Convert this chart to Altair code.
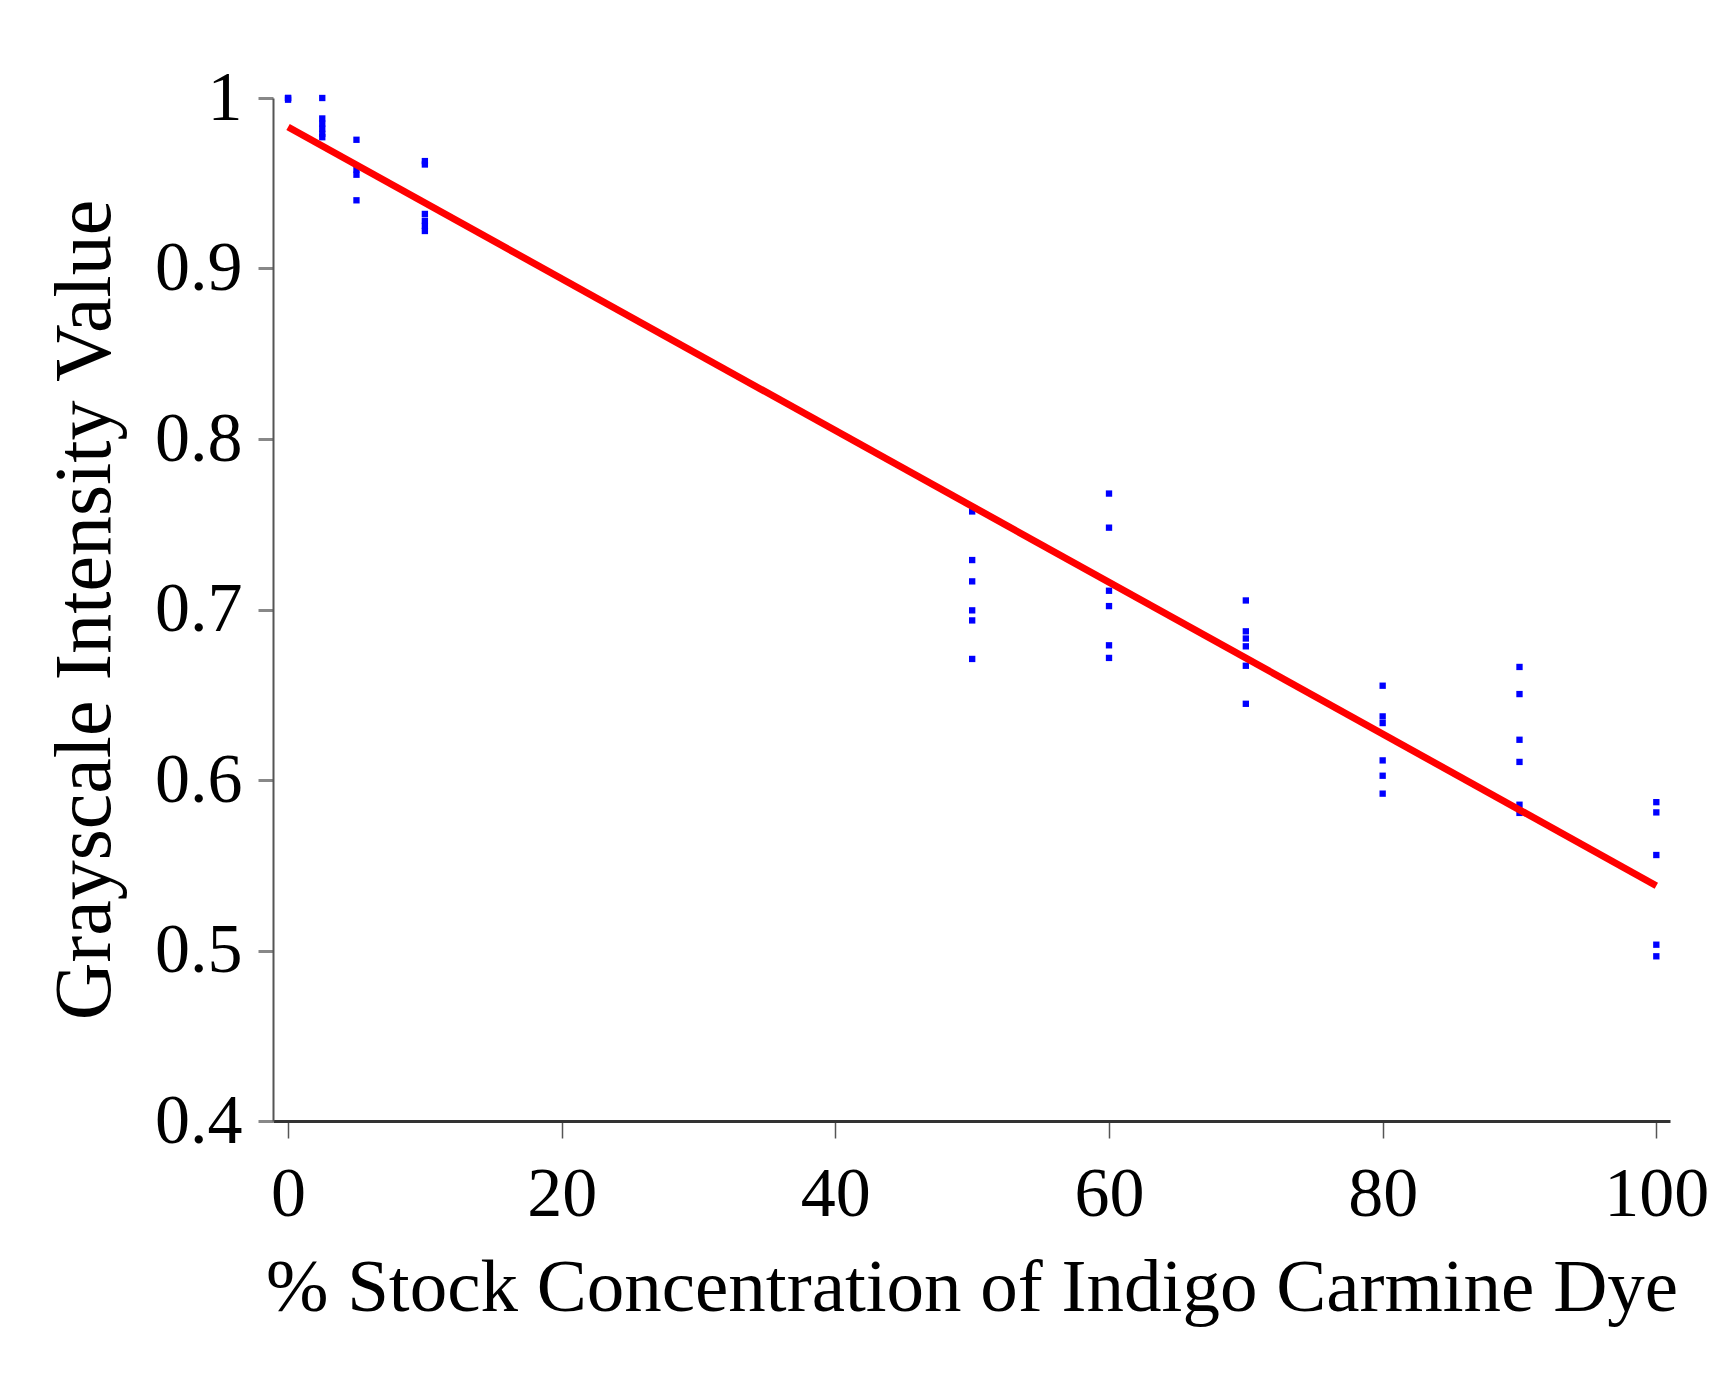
import altair as alt
import pandas as pd

# concentration levels (% stock) and grayscale values
conc_levels = [0, 2.5, 5, 10, 50, 60, 70, 80, 90, 100]
gray_values = [
    [1.0, 1.0, 0.999],
    [1.0, 0.988, 0.985, 0.982, 0.979, 0.977],
    [0.9755, 0.958, 0.955, 0.940],
    [0.963, 0.961, 0.932, 0.928, 0.925, 0.922],
    [0.7575, 0.729, 0.7165, 0.6995, 0.6936, 0.671],
    [0.768, 0.748, 0.711, 0.702, 0.679, 0.6716],
    [0.7053, 0.6872, 0.683, 0.6784, 0.667, 0.6447],
    [0.6553, 0.6373, 0.6334, 0.6115, 0.6025, 0.592],
    [0.6663, 0.6504, 0.6236, 0.6106, 0.5855, 0.5807],
    [0.587, 0.581, 0.556, 0.5034, 0.4966],
]

# fitted line end points
fit_x = [0, 100]
fit_y = [0.983, 0.538]

x_ticks = [0, 20, 40, 60, 80, 100]
y_ticks = [0.4, 0.5, 0.6, 0.7, 0.8, 0.9, 1.0]

rows = []
for c, vals in zip(conc_levels, gray_values):
    for v in vals:
        rows.append({"conc": c, "gray": v})
pts = pd.DataFrame(rows)
fit = pd.DataFrame({"conc": fit_x, "gray": fit_y})

FONT = "Liberation Serif"

xscale = alt.Scale(domain=[-1.1, 101], nice=False, zero=False)
yscale = alt.Scale(domain=[0.4, 1.0], nice=False, zero=False)

xaxis = alt.Axis(
    title="% Stock Concentration of Indigo Carmine Dye",
    values=x_ticks, format="d", grid=False,
    labelFont=FONT, labelFontSize=70, labelColor="#000000",
    titleFont=FONT, titleFontSize=75, titleFontWeight="normal", titleColor="#000000",
    titlePadding=22, labelPadding=22,
    tickSize=17, tickColor="#555555", tickWidth=1.5,
    domainColor="#333333", domainWidth=3,
)
yaxis = alt.Axis(
    title="Grayscale Intensity Value",
    values=y_ticks, grid=False,
    labelExpr="datum.value == 1 ? '1' : format(datum.value, '.1f')",
    labelFont=FONT, labelFontSize=70, labelColor="#000000",
    titleFont=FONT, titleFontSize=80, titleFontWeight="normal", titleColor="#000000",
    titlePadding=28, labelPadding=16,
    tickSize=15, tickColor="#888888", tickWidth=3,
    domainColor="#555555", domainWidth=2,
)

points = alt.Chart(pts).mark_square(size=40, color="#0000ff", opacity=1).encode(
    x=alt.X("conc:Q", scale=xscale, axis=xaxis),
    y=alt.Y("gray:Q", scale=yscale, axis=yaxis),
)
line = alt.Chart(fit).mark_line(color="#ff0000", strokeWidth=7).encode(
    x=alt.X("conc:Q", scale=xscale),
    y=alt.Y("gray:Q", scale=yscale),
)

chart = (points + line).properties(
    width=1397, height=1023,
    autosize=alt.AutoSizeParams(type="none"),
    padding={"left": 265, "top": 90, "right": 40, "bottom": 250},
).configure(background="#ffffff").configure_view(strokeWidth=0, stroke="transparent")

chart.save("out.html", embed_options={"renderer": "svg", "actions": False})
